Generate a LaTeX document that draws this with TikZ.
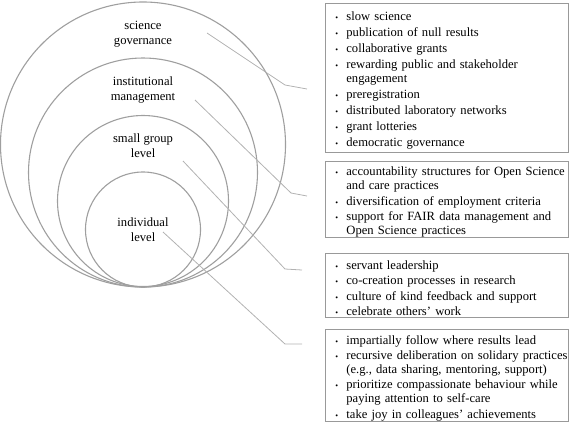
\documentclass[tikz,border=0pt]{standalone}
\usepackage{fontspec}
\setmainfont{Liberation Serif}
\usepackage{enumitem}
\usetikzlibrary{positioning}
\setlist[itemize]{label={\footnotesize\textbullet}, leftmargin=19.5pt, labelsep=8.3pt,
  itemsep=1pt, topsep=0pt, partopsep=0pt, parsep=0pt, rightmargin=-5pt}

\begin{document}
\begin{tikzpicture}[x=1pt, y=-1pt,
  ring/.style={circle, draw=gray!75, line width=1.1pt, inner sep=0pt},
  level/.style={align=center, font=\fontsize{12.6}{15}\selectfont},
  listbox/.style={rectangle, draw=gray!80, line width=0.8pt, anchor=north west,
                  text width=240pt, inner xsep=1.5pt, inner ysep=0pt,
                  font=\fontsize{12.6}{14.2}\selectfont},
  leader/.style={draw=gray!60, line width=0.8pt},
]
\useasboundingbox (0,0) rectangle (570,426);
% nested levels
\node[ring, minimum size=285pt] (govring)   at (143,144.5) {};
\node[ring, minimum size=229pt] (instring)  at (143,172.5) {};
\node[ring, minimum size=171pt] (groupring) at (143,201)   {};
\node[ring, minimum size=115pt] (indring)   at (143,229.5) {};
\node[level] (govlabel)   at (143,34.5)  {science\\governance};
\node[level] (instlabel)  at (143,90)    {institutional\\management};
\node[level] (grouplabel) at (143,146)   {small group\\level};
\node[level] (indlabel)   at (143,229.5) {individual\\level};
% practice lists
\node[listbox, minimum height=149pt] (govbox) at (325,3) {%
  \begin{itemize}[itemsep=1.8pt]
  \item slow science
  \item publication of null results
  \item collaborative grants
  \item rewarding public and stakeholder\\engagement
  \item preregistration
  \item distributed laboratory networks
  \item grant lotteries
  \item democratic governance
  \end{itemize}};
\node[listbox, minimum height=75pt] (instbox) at (325,161) {%
  \begin{itemize}
  \item accountability structures for Open Science\\and care practices
  \item diversification of employment criteria
  \item support for FAIR data management and\\Open Science practices
  \end{itemize}};
\node[listbox, minimum height=64pt] (groupbox) at (325,253) {%
  \begin{itemize}
  \item servant leadership
  \item co-creation processes in research
  \item culture of kind feedback and support
  \item celebrate others' work
  \end{itemize}};
\node[listbox, minimum height=92pt] (indbox) at (325,329) {%
  \begin{itemize}
  \item impartially follow where results lead
  \item recursive deliberation on solidary practices\\(e.g., data sharing, mentoring, support)
  \item prioritize compassionate behaviour while\\paying attention to self-care
  \item take joy in colleagues' achievements
  \end{itemize}};
% leader lines
\coordinate (govtip)    at (207,33);
\coordinate (govbend)   at (285,85);
\coordinate (govend)    at (307,89);
\coordinate (insttip)   at (195,100);
\coordinate (instbend)  at (291,193);
\coordinate (instend)   at (307,196);
\coordinate (grouptip)  at (183,161);
\coordinate (groupbend) at (285,269);
\coordinate (groupend)  at (302,270);
\coordinate (indtip)    at (163,232);
\coordinate (indbend)   at (285,344);
\coordinate (indend)    at (302,344);
\draw[leader] (govtip)   -- (govbend)   -- (govend);
\draw[leader] (insttip)  -- (instbend)  -- (instend);
\draw[leader] (grouptip) -- (groupbend) -- (groupend);
\draw[leader] (indtip)   -- (indbend)   -- (indend);
\end{tikzpicture}
\end{document}
